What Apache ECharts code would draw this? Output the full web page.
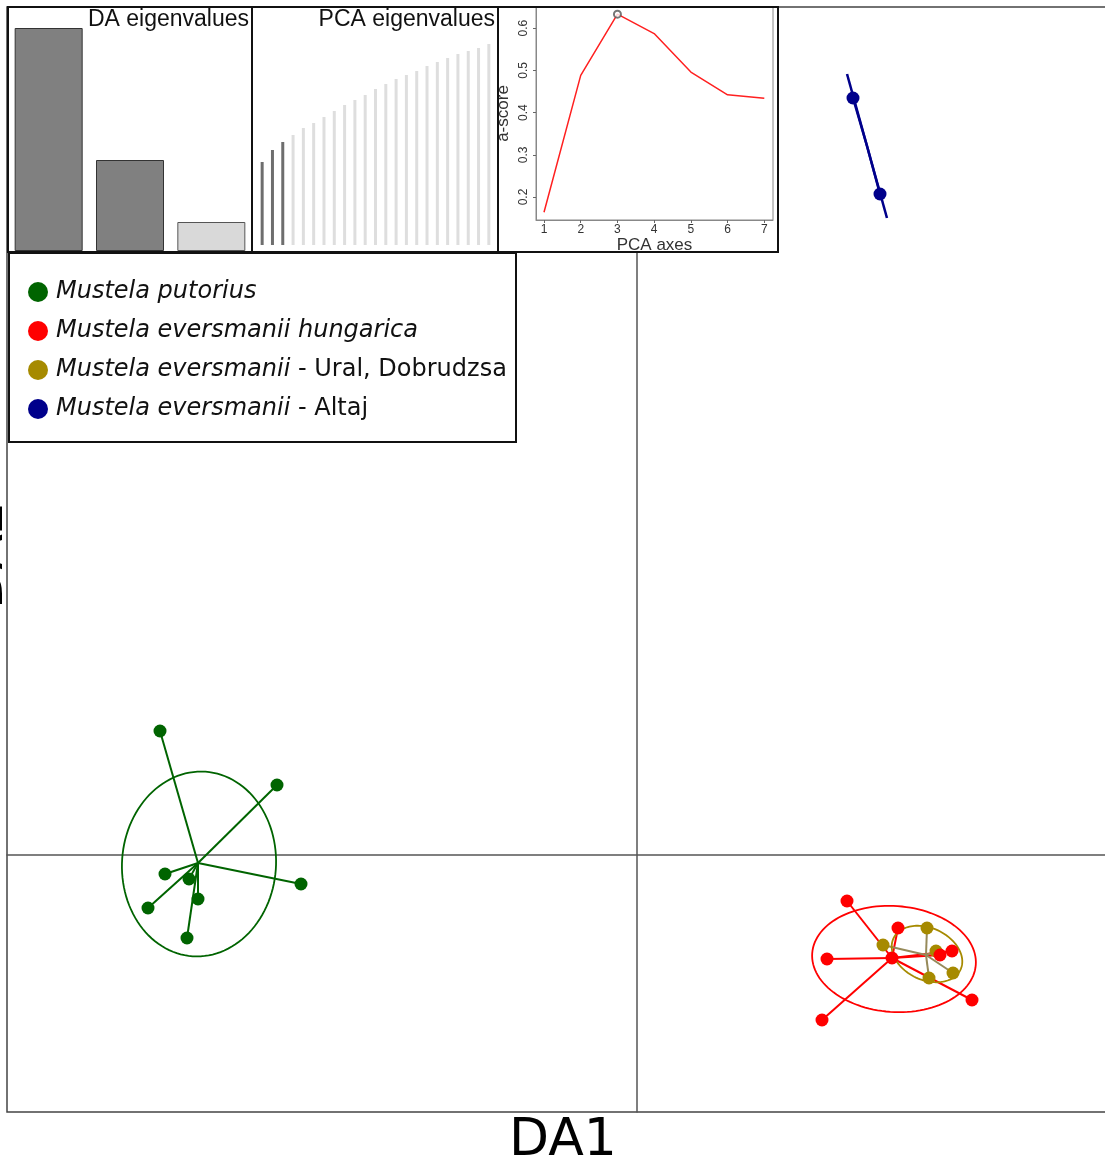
<!DOCTYPE html>
<html>
<head>
<meta charset="utf-8">
<script src="https://cdn.jsdelivr.net/npm/echarts@6/dist/echarts.min.js"></script>
<style>
  html, body { margin: 0; padding: 0; background: #fff; }
  #main { width: 1105px; height: 1159px; }
</style>
</head>
<body>
<div id="main"></div>
<script>
// groups
const groupNames = [
  'Mustela putorius',
  'Mustela eversmanii hungarica',
  'Mustela eversmanii - Ural, Dobrudzsa',
  'Mustela eversmanii - Altaj'
];
const groupColors = ['#006400', '#ff0000', '#a68a00', '#00008b'];
const starColors = ['#006400', '#ff0000', '#968a5a', '#00008b'];

// DA scores, one pair of arrays per group
const putoriusDA1 = [-4.77, -3.60, -3.36, -4.72, -4.48, -4.39, -4.89, -4.50];
const putoriusDA2 = [1.24, 0.70, -0.29, -0.19, -0.24, -0.44, -0.53, -0.83];
const hungaricaDA1 = [2.10, 2.61, 1.90, 3.35, 1.85, 3.03, 3.15, 2.55];
const hungaricaDA2 = [-0.46, -0.73, -1.04, -1.45, -1.65, -1.00, -0.96, -1.03];
const uralDA1 = [2.46, 2.90, 2.99, 3.16, 2.92];
const uralDA2 = [-0.90, -0.73, -0.96, -1.18, -1.23];
const altajDA1 = [2.16, 2.43];
const altajDA2 = [7.57, 6.61];

// group centroids [DA1, DA2]
const centroids = [[-4.39, -0.08], [2.55, -1.03], [2.89, -1.00], [2.30, 7.09]];
// inertia ellipses [cx, cy, semi-major, semi-minor, angle deg]
const ellipses = [
  [-4.38, -0.09, 0.925, 0.77, 86],
  [2.57, -1.04, 0.82, 0.53, -4],
  [2.90, -0.99, 0.37, 0.26, -25],
  [2.30, 7.09, 0.747, 0, -74.5]
];

// insets
const daEigen = [223, 91, 29];
const daRetained = 2;
const pcaEigenCum = [83, 95, 103, 110, 117, 122, 128, 134, 140, 145, 150, 156,
                     161, 166, 170, 174, 179, 183, 187, 191, 194, 197, 201];
const pcaRetained = 3;
const pcaAxes = [1, 2, 3, 4, 5, 6, 7];
const aScore = [0.164, 0.488, 0.633, 0.587, 0.496, 0.442, 0.434];
const aScoreBest = 3;
const aScoreTicks = [0.2, 0.3, 0.4, 0.5, 0.6];

const groupDA1 = [putoriusDA1, hungaricaDA1, uralDA1, altajDA1];
const groupDA2 = [putoriusDA2, hungaricaDA2, uralDA2, altajDA2];

const chart = echarts.init(document.getElementById('main'));
const helv = 'Liberation Sans, Arial, sans-serif';
const dejavu = 'DejaVu Sans, sans-serif';

const series = [];

groupNames.forEach(function (name, g) {
  const pts = groupDA1[g].map(function (x, i) { return [x, groupDA2[g][i]]; });
  // stars: centroid to each point
  series.push({
    name: name,
    type: 'custom',
    xAxisIndex: 0, yAxisIndex: 0,
    z: 2,
    itemStyle: { color: groupColors[g] },
    data: pts.map(function (p) { return [centroids[g][0], centroids[g][1], p[0], p[1]]; }),
    renderItem: function (params, api) {
      const a = api.coord([api.value(0), api.value(1)]);
      const b = api.coord([api.value(2), api.value(3)]);
      return {
        type: 'line',
        shape: { x1: a[0], y1: a[1], x2: b[0], y2: b[1] },
        style: { stroke: starColors[g], lineWidth: g === 3 ? 2.5 : 2 }
      };
    }
  });
  // ellipse
  series.push({
    name: name,
    type: 'custom',
    xAxisIndex: 0, yAxisIndex: 0,
    z: 3,
    itemStyle: { color: groupColors[g] },
    data: [ellipses[g]],
    renderItem: function (params, api) {
      const cx = api.value(0), cy = api.value(1);
      const ra = api.value(2), rb = api.value(3);
      const th = api.value(4) * Math.PI / 180;
      const points = [];
      for (let k = 0; k <= 120; k++) {
        const t = k / 120 * Math.PI * 2;
        const x = cx + ra * Math.cos(t) * Math.cos(th) - rb * Math.sin(t) * Math.sin(th);
        const y = cy + ra * Math.cos(t) * Math.sin(th) + rb * Math.sin(t) * Math.cos(th);
        points.push(api.coord([x, y]));
      }
      return {
        type: 'polygon',
        shape: { points: points },
        style: { fill: 'none', stroke: groupColors[g], lineWidth: g === 3 ? 2.5 : 1.8 }
      };
    }
  });
});

// points on top
[0, 2, 1, 3].forEach(function (g) {
  series.push({
    name: groupNames[g],
    type: 'scatter',
    xAxisIndex: 0, yAxisIndex: 0,
    z: 5,
    symbolSize: 13,
    itemStyle: { color: groupColors[g], opacity: 1 },
    data: groupDA1[g].map(function (x, i) { return [x, groupDA2[g][i]]; })
  });
});

// DA eigenvalues inset
series.push({
  type: 'bar',
  xAxisIndex: 1, yAxisIndex: 1,
  z: 21,
  barWidth: 68,
  data: daEigen.map(function (v, i) {
    return {
      value: v,
      itemStyle: {
        color: i < daRetained ? '#808080' : '#d9d9d9',
        borderColor: i < daRetained ? '#333' : '#555',
        borderWidth: 1
      }
    };
  })
});

// PCA eigenvalues inset
series.push({
  type: 'bar',
  xAxisIndex: 2, yAxisIndex: 2,
  z: 21,
  barWidth: 3,
  data: pcaEigenCum.map(function (v, i) {
    return { value: v, itemStyle: { color: i < pcaRetained ? '#6e6e6e' : '#dedede' } };
  })
});

// a-score inset
series.push({
  type: 'line',
  xAxisIndex: 3, yAxisIndex: 3,
  z: 21,
  showSymbol: false,
  lineStyle: { color: '#ff2020', width: 1.5 },
  data: pcaAxes.map(function (x, i) { return [x, aScore[i]]; }),
  markLine: {
    silent: true,
    symbol: 'none',
    label: { show: false },
    lineStyle: { color: '#cfcfcf', type: 'dotted', width: 1 },
    data: [{ xAxis: aScoreBest }]
  }
});
series.push({
  type: 'scatter',
  xAxisIndex: 3, yAxisIndex: 3,
  z: 22,
  symbol: 'emptyCircle',
  symbolSize: 7,
  itemStyle: { color: '#555', borderWidth: 1 },
  data: [[aScoreBest, aScore[aScoreBest - 1]]]
});

const hidden = { show: false };

const option = {
  animation: false,
  backgroundColor: '#fff',
  grid: [
    { left: 7, top: 7, width: 1118, bottom: 47, outerBoundsMode: 'none', show: true, borderColor: '#444', borderWidth: 1.5 },
    { left: 8, top: 7, width: 244, height: 244, outerBoundsMode: 'none' },
    { left: 257, top: 7, width: 237, height: 238, outerBoundsMode: 'none' },
    { left: 536, top: 7, width: 237, height: 213, outerBoundsMode: 'none', show: true, borderColor: '#888', borderWidth: 1, z: 20 }
  ],
  xAxis: [
    {
      gridIndex: 0, type: 'value', min: -6.30, max: 4.88,
      axisLine: { show: true, onZero: true, lineStyle: { color: '#555', width: 1.5 } },
      axisTick: hidden, axisLabel: hidden, splitLine: hidden
    },
    {
      gridIndex: 1, type: 'category', data: daEigen.map(function (v, i) { return String(i + 1); }),
      axisLine: hidden, axisTick: hidden, axisLabel: hidden
    },
    {
      gridIndex: 2, type: 'category', data: pcaEigenCum.map(function (v, i) { return String(i + 1); }),
      axisLine: hidden, axisTick: hidden, axisLabel: hidden
    },
    {
      gridIndex: 3, type: 'value', min: 0.782, max: 7.237, z: 20,
      name: 'PCA axes', nameLocation: 'middle', nameGap: 17,
      nameTextStyle: { fontFamily: helv, fontSize: 17, color: '#333' },
      axisLine: { show: true, lineStyle: { color: '#888', width: 1 } },
      axisTick: { show: true, length: 3, customValues: pcaAxes, lineStyle: { color: '#666' } },
      axisLabel: { customValues: pcaAxes, fontFamily: helv, fontSize: 12, color: '#333', margin: 4 },
      splitLine: hidden
    }
  ],
  yAxis: [
    {
      gridIndex: 0, type: 'value', min: -2.57, max: 8.48,
      axisLine: { show: true, onZero: true, lineStyle: { color: '#555', width: 1.5 } },
      axisTick: hidden, axisLabel: hidden, splitLine: hidden
    },
    {
      gridIndex: 1, type: 'value', min: 0, max: 244,
      axisLine: hidden, axisTick: hidden, axisLabel: hidden, splitLine: hidden
    },
    {
      gridIndex: 2, type: 'value', min: 0, max: 238,
      axisLine: hidden, axisTick: hidden, axisLabel: hidden, splitLine: hidden
    },
    {
      gridIndex: 3, type: 'value', min: 0.1456, max: 0.650, z: 20,
      name: 'a-score', nameLocation: 'middle', nameGap: 24, nameRotate: 90,
      nameTextStyle: { fontFamily: helv, fontSize: 17, color: '#333' },
      axisLine: { show: true, lineStyle: { color: '#888', width: 1 } },
      axisTick: { show: true, length: 3, customValues: aScoreTicks, lineStyle: { color: '#666' } },
      axisLabel: { customValues: aScoreTicks, rotate: 90, fontFamily: helv, fontSize: 12, color: '#333', margin: 6 },
      splitLine: hidden
    }
  ],
  legend: {
    orient: 'vertical',
    left: 28, top: 278,
    z: 31,
    padding: 0,
    itemWidth: 26, itemHeight: 20, itemGap: 11,
    selectedMode: false,
    data: groupNames.map(function (n, g) {
      return { name: n, icon: 'circle', itemStyle: { color: groupColors[g] } };
    }),
    formatter: function (name) {
      const cut = name.indexOf(' - ');
      if (cut < 0) return '{i|' + name + '}';
      return '{i|' + name.slice(0, cut) + '}{n|' + name.slice(cut) + '}';
    },
    textStyle: {
      fontFamily: dejavu, fontSize: 24, color: '#111', lineHeight: 28,
      rich: {
        i: { fontFamily: dejavu, fontSize: 24, fontStyle: 'italic', color: '#111', lineHeight: 28 },
        n: { fontFamily: dejavu, fontSize: 24, color: '#111', lineHeight: 28 }
      }
    }
  },
  graphic: [
    // inset backgrounds
    { type: 'rect', z: 10, shape: { x: 7, y: 7, width: 245, height: 245 }, style: { fill: '#fff' } },
    { type: 'rect', z: 10, shape: { x: 252, y: 7, width: 246, height: 245 }, style: { fill: '#fff' } },
    { type: 'rect', z: 10, shape: { x: 498, y: 7, width: 280, height: 245 }, style: { fill: '#fff' } },
    { type: 'rect', z: 25, shape: { x: 9, y: 253, width: 507, height: 189 }, style: { fill: '#fff' } },
    // inset borders
    { type: 'rect', z: 30, shape: { x: 8, y: 7, width: 244, height: 245 }, style: { fill: 'none', stroke: '#111', lineWidth: 2 } },
    { type: 'rect', z: 30, shape: { x: 252, y: 7, width: 246, height: 245 }, style: { fill: 'none', stroke: '#111', lineWidth: 2 } },
    { type: 'rect', z: 30, shape: { x: 498, y: 7, width: 280, height: 245 }, style: { fill: 'none', stroke: '#111', lineWidth: 2 } },
    { type: 'rect', z: 30, shape: { x: 9, y: 253, width: 507, height: 189 }, style: { fill: 'none', stroke: '#111', lineWidth: 2 } },
    // inset titles
    { type: 'text', z: 30, x: 249, y: 20, style: { text: 'DA eigenvalues', fontFamily: helv, fontSize: 23, fill: '#111', align: 'right', verticalAlign: 'middle' } },
    { type: 'text', z: 30, x: 495, y: 20, style: { text: 'PCA eigenvalues', fontFamily: helv, fontSize: 23, fill: '#111', align: 'right', verticalAlign: 'middle' } },
    // main axis titles
    { type: 'text', z: 30, x: 563, y: 1141, style: { text: 'DA1', fontFamily: dejavu, fontSize: 52, fill: '#000', align: 'center', verticalAlign: 'middle' } },
    { type: 'text', z: 30, x: -12, y: 555, rotation: Math.PI / 2, style: { text: 'DA2', fontFamily: dejavu, fontSize: 52, fill: '#000', align: 'center', verticalAlign: 'middle' } }
  ],
  series: series
};

chart.setOption(option);
window.addEventListener('resize', function () { chart.resize(); });
</script>
</body>
</html>
